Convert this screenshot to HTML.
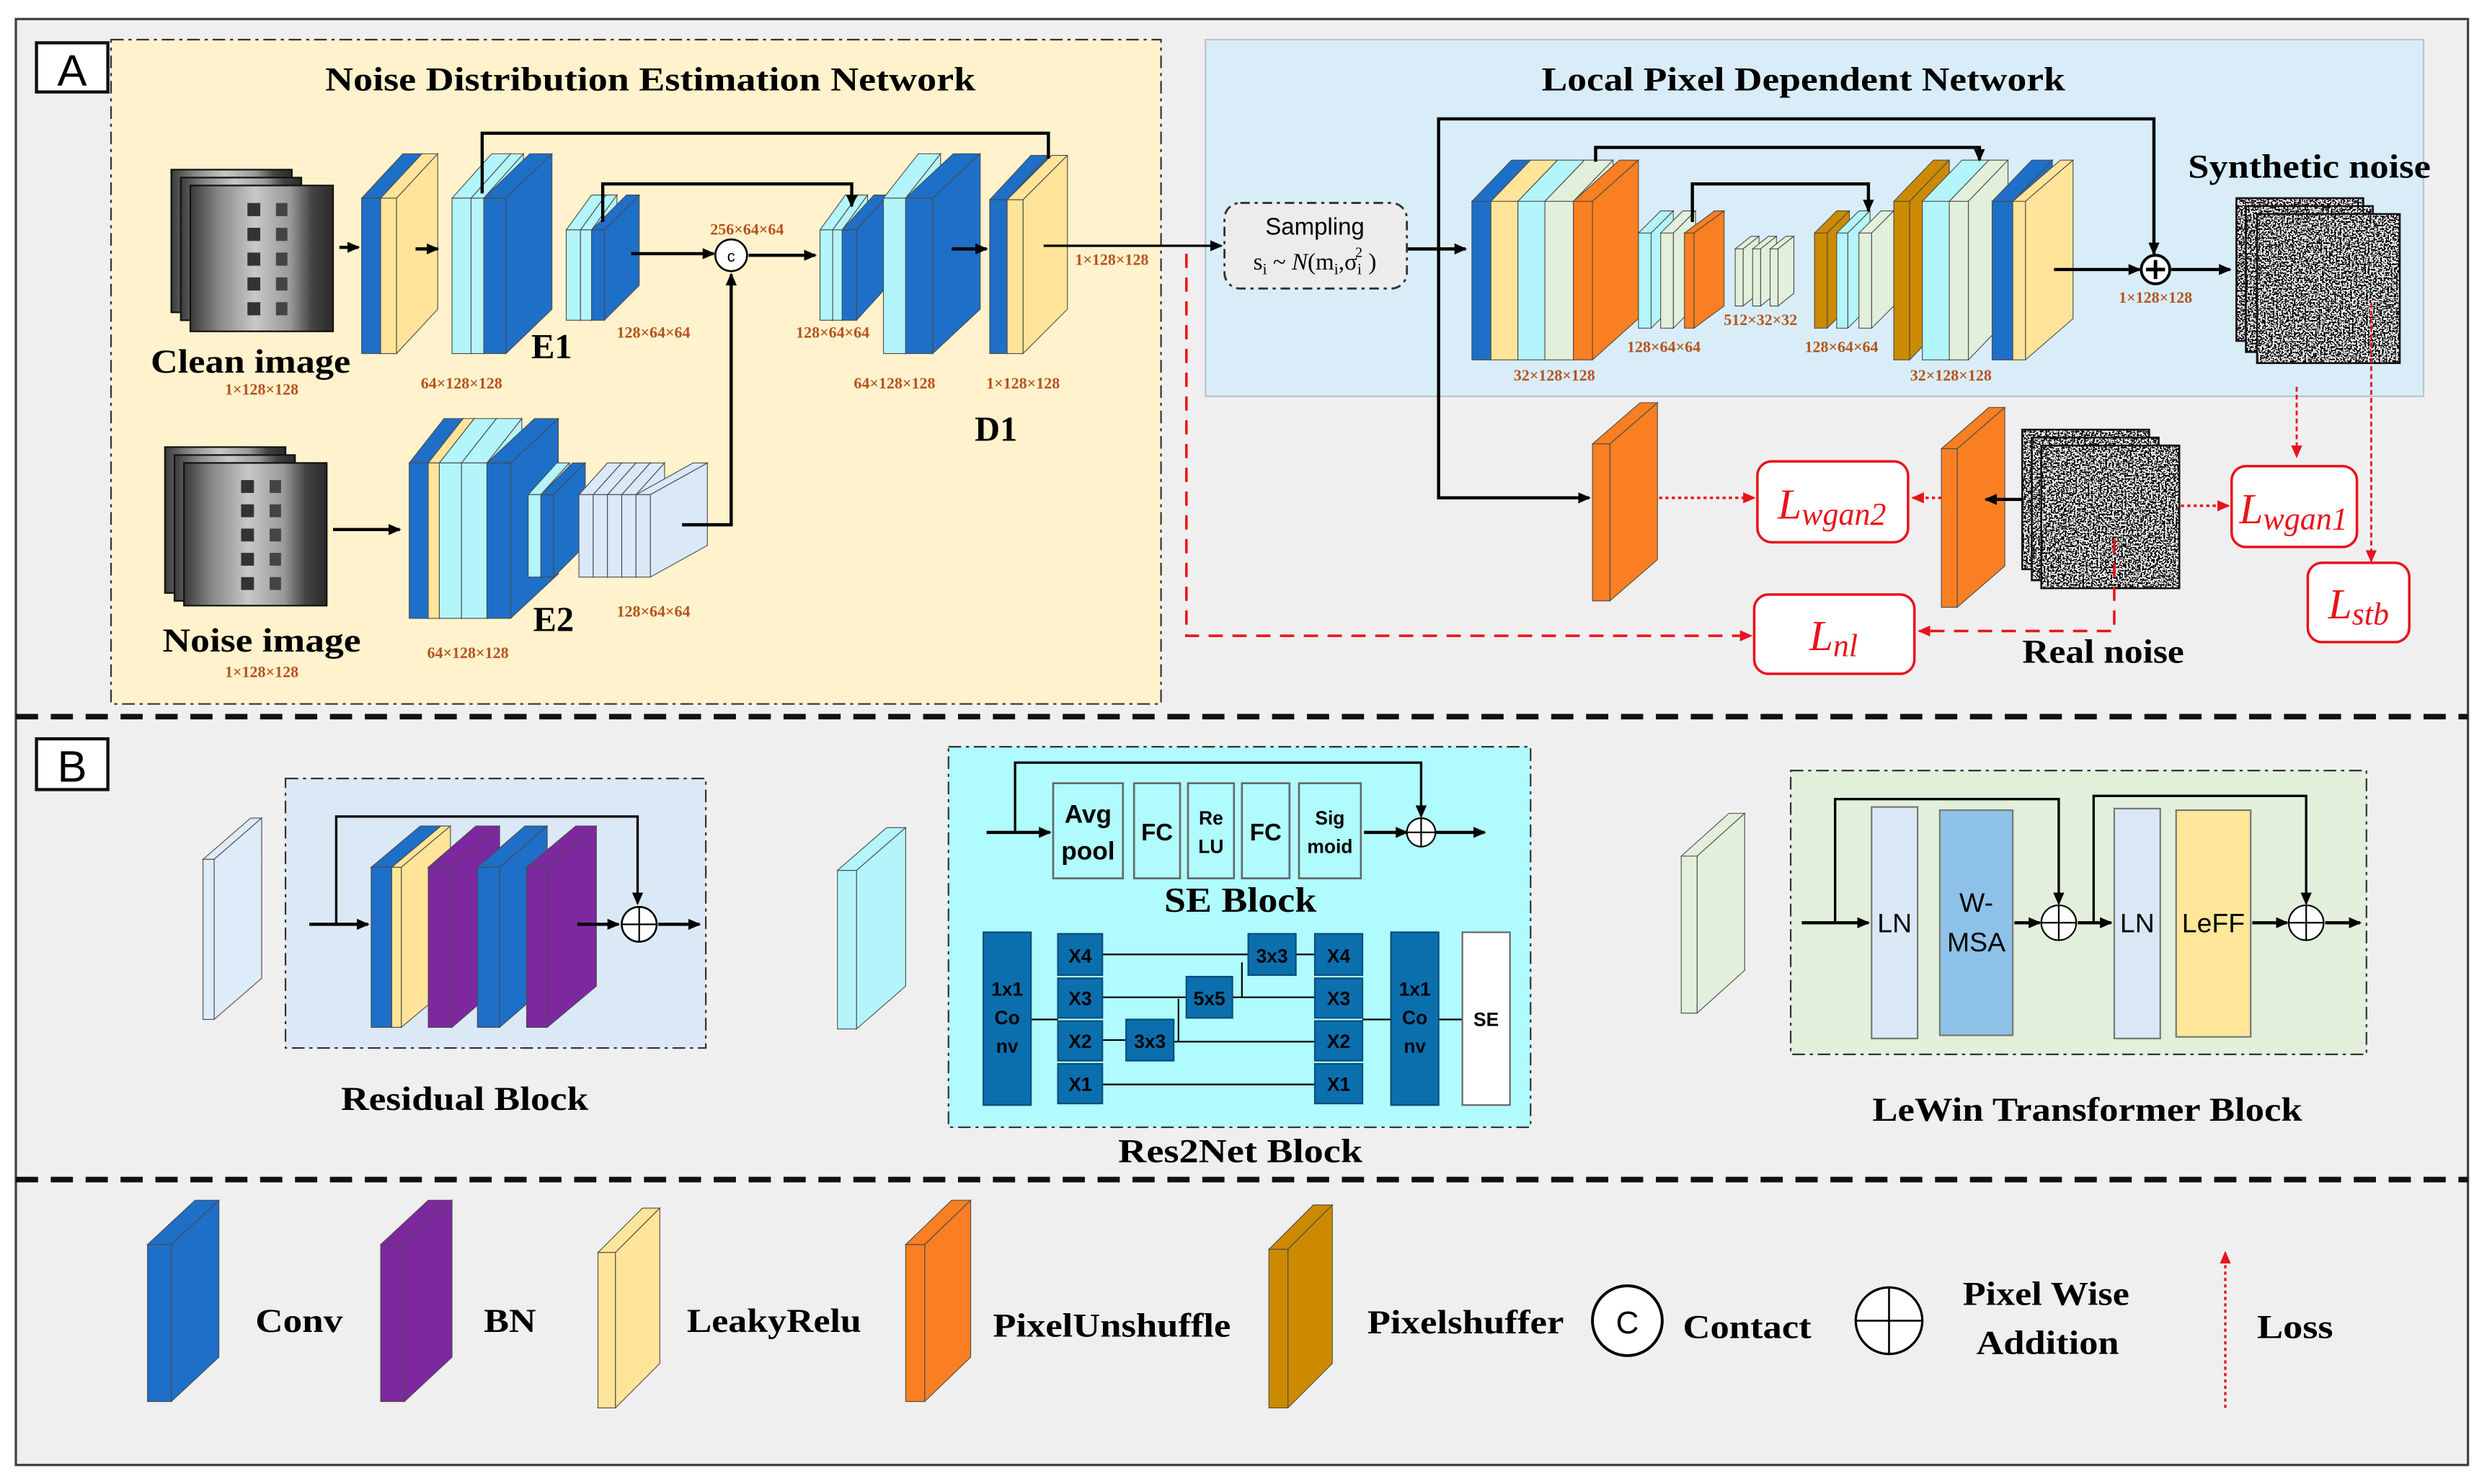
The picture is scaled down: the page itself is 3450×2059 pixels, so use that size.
<!DOCTYPE html>
<html><head><meta charset="utf-8">
<style>
html,body{margin:0;padding:0;background:#fff;}
svg{display:block;}
.t{font-family:"Liberation Serif",serif;font-weight:bold;fill:#000;}
.d{font-family:"Liberation Serif",serif;font-weight:bold;fill:#b5531c;font-size:10px;}
.s{font-family:"Liberation Sans",sans-serif;fill:#000;}
.L{font-family:"Liberation Serif",serif;font-style:italic;fill:#e8141b;}
</style></head>
<body>
<svg id="sv" xmlns="http://www.w3.org/2000/svg" width="3450" height="2059" viewBox="0 0 1568 936" preserveAspectRatio="none">
<defs>
<marker id="ab" markerWidth="8" markerHeight="8" refX="7" refY="4" orient="auto" markerUnits="userSpaceOnUse"><path d="M0,0.5 L8,4 L0,7.5 z" fill="#000"/></marker>
<marker id="ar" markerWidth="8" markerHeight="8" refX="7" refY="4" orient="auto" markerUnits="userSpaceOnUse"><path d="M0,0.5 L8,4 L0,7.5 z" fill="#e8141b"/></marker>
<filter id="nz" x="0" y="0" width="100%" height="100%">
<feTurbulence type="fractalNoise" baseFrequency="0.9" numOctaves="2" seed="3"/>
<feColorMatrix type="saturate" values="0"/>
<feComponentTransfer><feFuncR type="discrete" tableValues="0 0 1 1"/><feFuncG type="discrete" tableValues="0 0 1 1"/><feFuncB type="discrete" tableValues="0 0 1 1"/><feFuncA type="linear" slope="0" intercept="1"/></feComponentTransfer>
</filter>
<linearGradient id="bld" x1="0" x2="1" y1="0" y2="0">
<stop offset="0" stop-color="#3a3a3a"/><stop offset="0.2" stop-color="#888"/><stop offset="0.45" stop-color="#c8c8c8"/><stop offset="0.7" stop-color="#999"/><stop offset="0.85" stop-color="#444"/><stop offset="1" stop-color="#2a2a2a"/>
</linearGradient>
</defs>

<!-- frame -->
<rect x="10" y="12" width="1546" height="912" fill="#efefef" stroke="#444" stroke-width="1.5"/>
<line x1="10" y1="452" x2="1556" y2="452" stroke="#111" stroke-width="3.5" stroke-dasharray="14,8"/>
<line x1="10" y1="744" x2="1556" y2="744" stroke="#111" stroke-width="3.5" stroke-dasharray="14,8"/>
<rect x="23" y="27" width="45" height="31" fill="#fff" stroke="#111" stroke-width="2"/>
<text x="45.5" y="54" class="s" font-size="28" text-anchor="middle">A</text>
<rect x="23" y="466" width="45" height="32" fill="#fff" stroke="#111" stroke-width="2"/>
<text x="45.5" y="493" class="s" font-size="28" text-anchor="middle">B</text>

<!-- panels -->
<rect x="70" y="25" width="662" height="419" fill="#fff2cc" stroke="#333" stroke-width="1" stroke-dasharray="8,3,2,3"/>
<rect x="760" y="25" width="768" height="225" fill="#d9edf9" stroke="#b8c4cc" stroke-width="1"/>
<text x="410" y="57" class="t" font-size="21" text-anchor="middle" textLength="410" lengthAdjust="spacingAndGlyphs">Noise  Distribution Estimation Network</text>
<text x="1137" y="57" class="t" font-size="21" text-anchor="middle" textLength="330" lengthAdjust="spacingAndGlyphs">Local Pixel Dependent Network</text>

<g id="slabs"></g>

<!-- images -->
<g id="imgs"></g>

<!-- NDE connectors -->
<g stroke="#000" stroke-width="2" fill="none">
<line x1="214" y1="156" x2="226" y2="156" marker-end="url(#ab)"/>
<line x1="262" y1="157" x2="276" y2="157" marker-end="url(#ab)"/>
<polyline points="304,122 304,84 661,84 661,100"/>
<polyline points="380,140 380,116 537,116 537,130" marker-end="url(#ab)"/>
<line x1="398" y1="160" x2="450" y2="160" marker-end="url(#ab)"/>
<line x1="472" y1="161" x2="514" y2="161" marker-end="url(#ab)"/>
<line x1="600" y1="157" x2="622" y2="157" marker-end="url(#ab)"/>
<polyline points="430,331 461,331 461,173" marker-end="url(#ab)"/>
<line x1="210" y1="334" x2="252" y2="334" marker-end="url(#ab)"/>
<line x1="658" y1="155" x2="770" y2="155" stroke-width="1.5" marker-end="url(#ab)"/>
<line x1="887" y1="157" x2="924" y2="157" marker-end="url(#ab)"/>
<polyline points="907,157 907,75 1358,75 1358,160" marker-end="url(#ab)"/>
<polyline points="907,157 907,314 1002,314" marker-end="url(#ab)"/>
<polyline points="1006,102 1006,93 1248,93 1248,101" marker-end="url(#ab)"/>
<polyline points="1067,140 1067,116 1178,116 1178,133" marker-end="url(#ab)"/>
<line x1="1295" y1="170" x2="1349" y2="170" marker-end="url(#ab)"/>
<line x1="1369" y1="170" x2="1406" y2="170" marker-end="url(#ab)"/>
<line x1="1276" y1="315" x2="1252" y2="315" marker-end="url(#ab)"/>
</g>
<circle cx="461" cy="161" r="10" fill="#fff" stroke="#000" stroke-width="1.2"/>
<text x="461" y="165" class="s" font-size="10" text-anchor="middle">c</text>
<circle cx="1359" cy="170" r="9" fill="#fff" stroke="#000" stroke-width="1.8"/>
<path d="M1353,170 H1365 M1359,164 V176" stroke="#000" stroke-width="2.2"/>

<!-- sampling -->
<rect x="772" y="128" width="115" height="54" rx="10" fill="#ececec" stroke="#333" stroke-width="1.3" stroke-dasharray="6,3,2,3"/>
<text x="829" y="148" class="s" font-size="15" text-anchor="middle">Sampling</text>
<text x="829" y="170" font-family="Liberation Serif,serif" font-size="15" text-anchor="middle">s<tspan font-size="10" dy="3">i</tspan><tspan dy="-3"> ~ </tspan><tspan font-style="italic">N</tspan>(m<tspan font-size="10" dy="3">i</tspan><tspan dy="-3">,σ</tspan><tspan font-size="10" dy="3">i</tspan><tspan font-size="9" dy="-11" dx="-4">2</tspan><tspan dy="8"> )</tspan></text>

<!-- NDE labels -->
<text x="158" y="235" class="t" font-size="21" text-anchor="middle" textLength="126" lengthAdjust="spacingAndGlyphs">Clean image</text>
<text x="165" y="249" class="d" text-anchor="middle">1×128×128</text>
<text x="165" y="411" class="t" font-size="21" text-anchor="middle" textLength="125" lengthAdjust="spacingAndGlyphs">Noise image</text>
<text x="165" y="427" class="d" text-anchor="middle">1×128×128</text>
<text x="335" y="226" class="t" font-size="22">E1</text>
<text x="349" y="398" class="t" font-size="22" text-anchor="middle">E2</text>
<text x="628" y="278" class="t" font-size="22" text-anchor="middle">D1</text>
<text x="291" y="245" class="d" text-anchor="middle">64×128×128</text>
<text x="295" y="415" class="d" text-anchor="middle">64×128×128</text>
<text x="412" y="213" class="d" text-anchor="middle">128×64×64</text>
<text x="412" y="389" class="d" text-anchor="middle">128×64×64</text>
<text x="471" y="148" class="d" text-anchor="middle">256×64×64</text>
<text x="525" y="213" class="d" text-anchor="middle">128×64×64</text>
<text x="564" y="245" class="d" text-anchor="middle">64×128×128</text>
<text x="645" y="245" class="d" text-anchor="middle">1×128×128</text>
<text x="701" y="167" class="d" text-anchor="middle">1×128×128</text>
<text x="980" y="240" class="d" text-anchor="middle">32×128×128</text>
<text x="1049" y="222" class="d" text-anchor="middle">128×64×64</text>
<text x="1110" y="205" class="d" text-anchor="middle">512×32×32</text>
<text x="1161" y="222" class="d" text-anchor="middle">128×64×64</text>
<text x="1230" y="240" class="d" text-anchor="middle">32×128×128</text>
<text x="1359" y="191" class="d" text-anchor="middle">1×128×128</text>
<text x="1456" y="112" class="t" font-size="21" text-anchor="middle" textLength="153" lengthAdjust="spacingAndGlyphs">Synthetic noise</text>
<text x="1326" y="418" class="t" font-size="21" text-anchor="middle" textLength="102" lengthAdjust="spacingAndGlyphs">Real noise</text>

<!-- red loss -->
<g fill="none" stroke="#e8141b">
<polyline points="748,160 748,401 1104,401" stroke-width="1.6" stroke-dasharray="9,6" marker-end="url(#ar)"/>
<polyline points="1333,340 1333,398 1210,398" stroke-width="1.6" stroke-dasharray="9,6" marker-end="url(#ar)"/>
<line x1="1046" y1="314" x2="1106" y2="314" stroke-width="1.6" stroke-dasharray="2,2" marker-end="url(#ar)"/>
<line x1="1224" y1="314" x2="1206" y2="314" stroke-width="1.6" stroke-dasharray="2,2" marker-end="url(#ar)"/>
<line x1="1375" y1="319" x2="1405" y2="319" stroke-width="1.6" stroke-dasharray="2,2" marker-end="url(#ar)"/>
<line x1="1448" y1="244" x2="1448" y2="288" stroke-width="1.3" stroke-dasharray="3,2" marker-end="url(#ar)"/>
<line x1="1495" y1="191" x2="1495" y2="354" stroke-width="1.3" stroke-dasharray="3,2" marker-end="url(#ar)"/>
<rect x="1108" y="291" width="95" height="51" rx="9" stroke-width="1.6" fill="#fff"/>
<rect x="1407" y="294" width="79" height="51" rx="9" stroke-width="1.6" fill="#fff"/>
<rect x="1455" y="355" width="64" height="50" rx="9" stroke-width="1.6" fill="#fff"/>
<rect x="1106" y="375" width="101" height="50" rx="9" stroke-width="1.6" fill="#fff"/>
</g>
<text x="1155" y="327" class="L" font-size="27" text-anchor="middle">L<tspan font-size="20" dy="4">wgan2</tspan></text>
<text x="1446" y="330" class="L" font-size="27" text-anchor="middle">L<tspan font-size="20" dy="4">wgan1</tspan></text>
<text x="1487" y="390" class="L" font-size="27" text-anchor="middle">L<tspan font-size="20" dy="4">stb</tspan></text>
<text x="1156" y="410" class="L" font-size="27" text-anchor="middle">L<tspan font-size="20" dy="4">nl</tspan></text>

<!-- Section B panels -->
<rect x="180" y="491" width="265" height="170" fill="#dbe9f6" stroke="#333" stroke-dasharray="8,3,2,3"/>
<rect x="598" y="471" width="367" height="240" fill="#b0fbfd" stroke="#333" stroke-dasharray="8,3,2,3"/>
<rect x="1129" y="486" width="363" height="179" fill="#e2efda" stroke="#333" stroke-dasharray="8,3,2,3"/>
<g id="slabsB"></g>

<!-- residual connectors -->
<g stroke="#000" stroke-width="2" fill="none">
<line x1="195" y1="583" x2="232" y2="583" marker-end="url(#ab)"/>
<polyline points="212,583 212,515 402,515 402,570" stroke-width="1.5" marker-end="url(#ab)"/>
<line x1="364" y1="583" x2="390" y2="583" marker-end="url(#ab)"/>
<line x1="415" y1="583" x2="441" y2="583" marker-end="url(#ab)"/>
</g>
<circle cx="403" cy="583" r="11" fill="#fff" stroke="#000" stroke-width="1.2"/>
<path d="M392,583 H414 M403,572 V594" stroke="#000" stroke-width="1"/>
<text x="293" y="700" class="t" font-size="21" text-anchor="middle" textLength="156" lengthAdjust="spacingAndGlyphs">Residual Block</text>

<!-- SE block -->
<g stroke="#000" stroke-width="2" fill="none">
<line x1="622" y1="525" x2="662" y2="525" marker-end="url(#ab)"/>
<polyline points="640,525 640,481 896,481 896,515" stroke-width="1.5" marker-end="url(#ab)"/>
<line x1="860" y1="525" x2="887" y2="525" marker-end="url(#ab)"/>
<line x1="905" y1="525" x2="936" y2="525" marker-end="url(#ab)"/>
</g>
<g fill="#b0fbfd" stroke="#666" stroke-width="1.2">
<rect x="664" y="494" width="44" height="60"/><rect x="715" y="494" width="29" height="60"/><rect x="749" y="494" width="29" height="60"/><rect x="783" y="494" width="30" height="60"/><rect x="819" y="494" width="39" height="60"/>
</g>
<circle cx="896" cy="525" r="9" fill="#fff" stroke="#000" stroke-width="1"/>
<path d="M887,525 H905 M896,516 V534" stroke="#000" stroke-width="1"/>
<g class="s" font-weight="bold" text-anchor="middle">
<text x="686" y="519" font-size="16">Avg</text><text x="686" y="542" font-size="16">pool</text>
<text x="729.5" y="530" font-size="15">FC</text>
<text x="763.5" y="520" font-size="12">Re</text><text x="763.5" y="538" font-size="12">LU</text>
<text x="798" y="530" font-size="15">FC</text>
<text x="838.5" y="520" font-size="12">Sig</text><text x="838.5" y="538" font-size="12">moid</text>
</g>
<text x="782" y="575" class="t" font-size="22" text-anchor="middle" textLength="96" lengthAdjust="spacingAndGlyphs">SE Block</text>

<!-- Res2Net -->
<g stroke="#000" stroke-width="1" fill="none">
<line x1="695" y1="602" x2="787" y2="602"/><line x1="817" y1="602" x2="829" y2="602"/>
<line x1="695" y1="629" x2="748" y2="629"/><line x1="777" y1="629" x2="829" y2="629"/>
<line x1="695" y1="656" x2="710" y2="656"/><line x1="740" y1="657" x2="829" y2="657"/>
<line x1="695" y1="684" x2="829" y2="684"/>
<line x1="743" y1="630" x2="743" y2="657"/><line x1="783" y1="607" x2="783" y2="629"/>
<line x1="650" y1="643" x2="667" y2="643"/><line x1="859" y1="643" x2="877" y2="643"/><line x1="907" y1="643" x2="922" y2="643"/>
</g>
<g fill="#0b6fae" stroke="#0a4d78" stroke-width="1">
<rect x="620" y="588" width="30" height="109"/>
<rect x="667" y="589" width="28" height="26"/><rect x="667" y="617" width="28" height="25"/><rect x="667" y="644" width="28" height="25"/><rect x="667" y="671" width="28" height="25"/>
<rect x="787" y="589" width="30" height="26"/><rect x="748" y="616" width="29" height="26"/><rect x="710" y="643" width="30" height="26"/>
<rect x="829" y="589" width="30" height="26"/><rect x="829" y="617" width="30" height="25"/><rect x="829" y="644" width="30" height="25"/><rect x="829" y="671" width="30" height="25"/>
<rect x="877" y="588" width="30" height="109"/>
</g>
<rect x="922" y="588" width="30" height="109" fill="#fff" stroke="#666"/>
<g class="s" font-weight="bold" font-size="12" text-anchor="middle" fill="#111">
<text x="635" y="628">1x1</text><text x="635" y="646">Co</text><text x="635" y="664">nv</text>
<text x="892" y="628">1x1</text><text x="892" y="646">Co</text><text x="892" y="664">nv</text>
<text x="681" y="607">X4</text><text x="681" y="634">X3</text><text x="681" y="661">X2</text><text x="681" y="688">X1</text>
<text x="844" y="607">X4</text><text x="844" y="634">X3</text><text x="844" y="661">X2</text><text x="844" y="688">X1</text>
<text x="802" y="607">3x3</text><text x="762.5" y="634">5x5</text><text x="725" y="661">3x3</text>
<text x="937" y="647">SE</text>
</g>
<text x="782" y="733" class="t" font-size="21" text-anchor="middle" textLength="154" lengthAdjust="spacingAndGlyphs">Res2Net Block</text>

<!-- LeWin -->
<rect x="1180" y="509" width="29" height="146" fill="#dae8f6" stroke="#777"/>
<rect x="1223" y="511" width="46" height="142" fill="#8ec2e8" stroke="#777"/>
<rect x="1333" y="510" width="29" height="145" fill="#dae8f6" stroke="#777"/>
<rect x="1372" y="511" width="47" height="143" fill="#ffe699" stroke="#777"/>
<g stroke="#000" stroke-width="2" fill="none">
<line x1="1136" y1="582" x2="1178" y2="582" marker-end="url(#ab)"/>
<polyline points="1157,582 1157,504 1298,504 1298,570" stroke-width="1.5" marker-end="url(#ab)"/>
<line x1="1270" y1="582" x2="1286" y2="582" marker-end="url(#ab)"/>
<line x1="1310" y1="582" x2="1331" y2="582" marker-end="url(#ab)"/>
<polyline points="1320,582 1320,502 1454,502 1454,570" stroke-width="1.5" marker-end="url(#ab)"/>
<line x1="1420" y1="582" x2="1442" y2="582" marker-end="url(#ab)"/>
<line x1="1466" y1="582" x2="1488" y2="582" marker-end="url(#ab)"/>
</g>
<circle cx="1298" cy="582" r="11" fill="#fff" stroke="#000"/><path d="M1287,582 H1309 M1298,571 V593" stroke="#000"/>
<circle cx="1454" cy="582" r="11" fill="#fff" stroke="#000"/><path d="M1443,582 H1465 M1454,571 V593" stroke="#000"/>
<g class="s" font-size="17" text-anchor="middle">
<text x="1194.5" y="588">LN</text><text x="1347.5" y="588">LN</text>
<text x="1246" y="575">W-</text><text x="1246" y="600">MSA</text>
<text x="1395.5" y="588">LeFF</text>
</g>
<text x="1316" y="707" class="t" font-size="21" text-anchor="middle" textLength="271" lengthAdjust="spacingAndGlyphs">LeWin Transformer Block</text>

<!-- Legend -->
<g class="t" font-size="21">
<text x="161" y="840" textLength="55" lengthAdjust="spacingAndGlyphs">Conv</text>
<text x="305" y="840" textLength="33" lengthAdjust="spacingAndGlyphs">BN</text>
<text x="433" y="840" textLength="110" lengthAdjust="spacingAndGlyphs">LeakyRelu</text>
<text x="626" y="843" textLength="150" lengthAdjust="spacingAndGlyphs">PixelUnshuffle</text>
<text x="862" y="841" textLength="124" lengthAdjust="spacingAndGlyphs">Pixelshuffer</text>
<text x="1061" y="844" textLength="81" lengthAdjust="spacingAndGlyphs">Contact</text>
<text x="1290" y="823" text-anchor="middle" textLength="105" lengthAdjust="spacingAndGlyphs">Pixel Wise</text>
<text x="1291" y="854" text-anchor="middle" textLength="90" lengthAdjust="spacingAndGlyphs">Addition</text>
<text x="1423" y="844" textLength="48" lengthAdjust="spacingAndGlyphs">Loss</text>
</g>
<circle cx="1026" cy="833" r="22" fill="#fff" stroke="#000" stroke-width="1.8"/>
<text x="1026" y="841" class="s" font-size="20" text-anchor="middle">C</text>
<circle cx="1191" cy="833" r="21" fill="#fff" stroke="#000" stroke-width="1.5"/>
<path d="M1170,833 H1212 M1191,812 V854" stroke="#000" stroke-width="1.2"/>
<line x1="1403" y1="888" x2="1403" y2="790" stroke="#e8141b" stroke-width="1.5" stroke-dasharray="2,2" marker-end="url(#ar)"/>
<g id="slabsL"></g>

<script>
var NS="http://www.w3.org/2000/svg";
function poly(g,pts,fill){var p=document.createElementNS(NS,"polygon");p.setAttribute("points",pts);p.setAttribute("fill",fill);p.setAttribute("stroke","#4a4a4a");p.setAttribute("stroke-width","0.5");g.appendChild(p);}
function slab(g,x,y,w,h,d,dy,c){
 poly(g,x+","+y+" "+(x+d)+","+(y-dy)+" "+(x+w+d)+","+(y-dy)+" "+(x+w)+","+y,c);
 poly(g,(x+w)+","+y+" "+(x+w+d)+","+(y-dy)+" "+(x+w+d)+","+(y+h-dy)+" "+(x+w)+","+(y+h),c);
 poly(g,x+","+y+" "+(x+w)+","+y+" "+(x+w)+","+(y+h)+" "+x+","+(y+h),c);
}
var B="#1e6fc8",Y="#ffe499",C="#b3f5fa",G="#e2efda",O="#fa7f22",LB="#dae8f8",P="#7e28a0",GD="#cc8a00";
var g=document.getElementById("slabs");
// NDE top
slab(g,228,125,12,98,26,28,B);slab(g,240,125,10,98,26,28,Y);
slab(g,285,125,12,98,25,28,C);slab(g,297,125,8,98,25,28,C);slab(g,305,125,14,98,29,28,B);
slab(g,357,145,9,57,16,22,C);slab(g,366,145,7,57,16,22,C);slab(g,373,145,8,57,22,22,B);
slab(g,517,145,8,57,16,22,C);slab(g,525,145,6,57,16,22,C);slab(g,531,145,9,57,20,22,B);
slab(g,557,125,14,98,22,28,C);slab(g,571,125,17,98,30,28,B);
slab(g,624,126,11,97,26,28,B);slab(g,635,126,10,97,28,28,Y);
// E2
slab(g,258,292,12,98,22,28,B);slab(g,270,292,7,98,22,28,Y);slab(g,277,292,14,98,22,28,C);slab(g,291,292,16,98,22,28,C);slab(g,307,292,15,98,30,28,B);
slab(g,333,312,8,52,18,20,C);slab(g,341,312,8,52,20,20,B);
[365,374,383,392,401].forEach(function(x,i){slab(g,x,312,9,52,i==4?36:18,20,LB);});
// LPDN
slab(g,928,127,12,100,25,26,B);slab(g,940,127,17,100,25,26,Y);slab(g,957,127,17,100,25,26,C);slab(g,974,127,18,100,25,26,G);slab(g,992,127,12,100,29,26,O);
slab(g,1033,147,8,60,14,14,C);slab(g,1047,147,8,60,14,14,G);slab(g,1062,147,6,60,19,14,O);
slab(g,1094,157,5,36,10,8,G);slab(g,1105,157,5,36,10,8,G);slab(g,1116,157,5,36,10,8,G);
slab(g,1144,147,8,60,14,14,GD);slab(g,1158,147,7,60,14,14,C);slab(g,1172,147,8,60,14,14,G);
slab(g,1194,127,10,100,25,26,GD);slab(g,1212,127,17,100,25,26,C);slab(g,1229,127,12,100,25,26,G);slab(g,1256,127,13,100,25,26,B);slab(g,1269,127,8,100,30,26,Y);
slab(g,1004,280,11,99,30,26,O);slab(g,1224,283,10,100,30,26,O);
// B slabs
var gb=document.getElementById("slabsB");
slab(gb,128,542,7,101,30,26,"#deebf8");
slab(gb,234,547,13,101,31,26,B);slab(gb,247,547,6,101,31,26,Y);slab(gb,270,547,15,101,30,26,P);slab(gb,301,547,14,101,30,26,B);slab(gb,332,547,13,101,31,26,P);
slab(gb,528,549,12,100,31,27,C);
slab(gb,1060,540,10,99,30,27,G);
// legend
var gl=document.getElementById("slabsL");
slab(gl,93,785,15,99,30,28,B);slab(gl,240,785,15,99,30,28,P);slab(gl,377,790,11,98,28,28,Y);slab(gl,571,785,12,99,29,28,O);slab(gl,800,788,12,100,28,28,GD);
// images
var gi=document.getElementById("imgs");
function bimg(x,y,w,h){var r=document.createElementNS(NS,"rect");r.setAttribute("x",x);r.setAttribute("y",y);r.setAttribute("width",w);r.setAttribute("height",h);r.setAttribute("fill","url(#bld)");r.setAttribute("stroke","#111");r.setAttribute("stroke-width","1");gi.appendChild(r);
 for(var i=0;i<5;i++){var q=document.createElementNS(NS,"rect");q.setAttribute("x",x+w*0.4);q.setAttribute("y",y+h*0.12+i*h*0.17);q.setAttribute("width",w*0.09);q.setAttribute("height",h*0.09);q.setAttribute("fill","#333");gi.appendChild(q);
 var q2=document.createElementNS(NS,"rect");q2.setAttribute("x",x+w*0.6);q2.setAttribute("y",y+h*0.12+i*h*0.17);q2.setAttribute("width",w*0.08);q2.setAttribute("height",h*0.09);q2.setAttribute("fill","#444");gi.appendChild(q2);}}
function nimg(x,y,w,h){var r=document.createElementNS(NS,"rect");r.setAttribute("x",x);r.setAttribute("y",y);r.setAttribute("width",w);r.setAttribute("height",h);r.setAttribute("filter","url(#nz)");r.setAttribute("fill","#888");gi.appendChild(r);
 var s=document.createElementNS(NS,"rect");s.setAttribute("x",x);s.setAttribute("y",y);s.setAttribute("width",w);s.setAttribute("height",h);s.setAttribute("fill","none");s.setAttribute("stroke","#111");s.setAttribute("stroke-width","1.2");gi.appendChild(s);}
bimg(108,107,76,90);bimg(114,112,76,90);bimg(120,117,90,92);
bimg(104,282,76,92);bimg(110,287,76,92);bimg(116,292,90,90);
nimg(1410,125,80,90);nimg(1416,130,80,92);nimg(1423,135,90,94);
nimg(1275,271,80,88);nimg(1281,276,80,90);nimg(1287,281,87,90);
</script>
</svg>
</body></html>
